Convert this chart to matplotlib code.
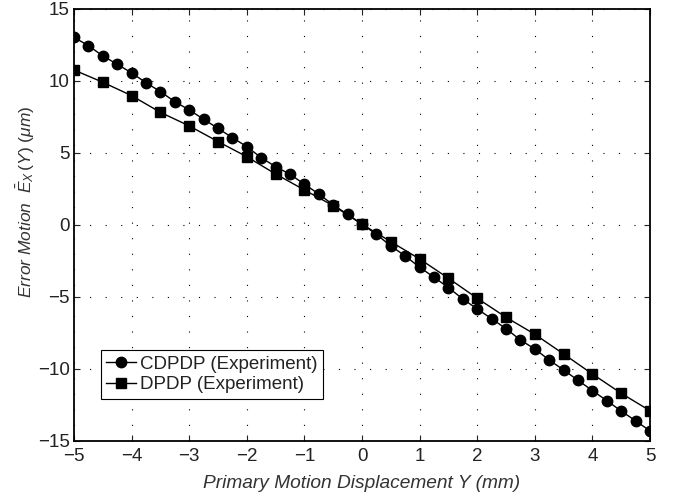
import numpy as np
import matplotlib
matplotlib.use("Agg")
import matplotlib.pyplot as plt

plt.rcParams["font.family"] = ["Liberation Sans", "DejaVu Sans"]
plt.rcParams["mathtext.fontset"] = "custom"
plt.rcParams["mathtext.it"] = "Liberation Sans:italic"
plt.rcParams["mathtext.rm"] = "Liberation Sans"

# CDPDP measured every 0.25 mm
y_cd = np.arange(-5, 5.001, 0.25)
e_cd = [13.03, 12.45, 11.74, 11.16, 10.56, 9.88, 9.26, 8.56, 7.99, 7.34,
        6.71, 6.06, 5.44, 4.67, 4.05, 3.52, 2.83, 2.15, 1.39, 0.74,
        0.05, -0.65, -1.46, -2.15, -2.94, -3.63, -4.35, -5.14, -5.83, -6.51,
        -7.20, -7.99, -8.61, -9.38, -10.07, -10.79, -11.50, -12.20, -12.92, -13.60,
        -14.30]

# DPDP measured every 0.5 mm
y_d = np.arange(-5, 5.001, 0.5)
e_d = [10.76, 9.91, 8.98, 7.82, 6.88, 5.79, 4.74, 3.54, 2.43, 1.34,
       0.05, -1.16, -2.36, -3.70, -5.09, -6.41, -7.59, -8.96, -10.35, -11.69,
       -12.90]

fig = plt.figure(figsize=(6.81, 4.98), dpi=100)
ax = fig.add_axes([0.1087, 0.1145, 0.8458, 0.8675])

ax.plot(y_cd, e_cd, "-o", color="black", lw=1.0, ms=7.5, label="CDPDP (Experiment)")
ax.plot(y_d, e_d, "-s", color="black", lw=1.0, ms=6.5, label="DPDP (Experiment)")

ax.set_xlim(-5, 5)
ax.set_ylim(-15, 15)
ax.set_xticks(range(-5, 6))
ax.set_yticks(range(-15, 16, 5))
ax.set_xticklabels([str(v).replace("-", "\u2212") for v in range(-5, 6)])
ax.set_yticklabels([str(v).replace("-", "\u2212") for v in range(-15, 16, 5)])
ax.tick_params(direction="in", labelsize=13.5, length=4, top=True, right=True,
               colors="#222222")
ax.tick_params(axis="x", pad=5)
ax.tick_params(axis="y", pad=3)
ax.grid(True, linestyle=(0, (1, 13)), color="black", lw=0.8)
for s in ax.spines.values():
    s.set_linewidth(1.3)
    s.set_color("black")

ax.set_xlabel("Primary Motion Displacement Y (mm)", fontsize=13.8, style="italic",
              color="#333333", labelpad=7)
ax.set_ylabel(r"Error Motion  $\bar{E}_X$$\,(Y)\ (\mu m)$", fontsize=12.5,
              style="italic", color="#333333")
ax.yaxis.set_label_coords(-0.064, 0.553)

leg = ax.legend(loc="lower left", bbox_to_anchor=(0.046, 0.097), fontsize=13.5,
                fancybox=False, edgecolor="black", framealpha=1,
                handlelength=1.6, handletextpad=0.2, borderpad=0.3,
                labelspacing=0.2, borderaxespad=0)
leg.get_frame().set_linewidth(0.8)
for t in leg.get_texts():
    t.set_color("#222222")

fig.savefig("out.png", dpi=100)
